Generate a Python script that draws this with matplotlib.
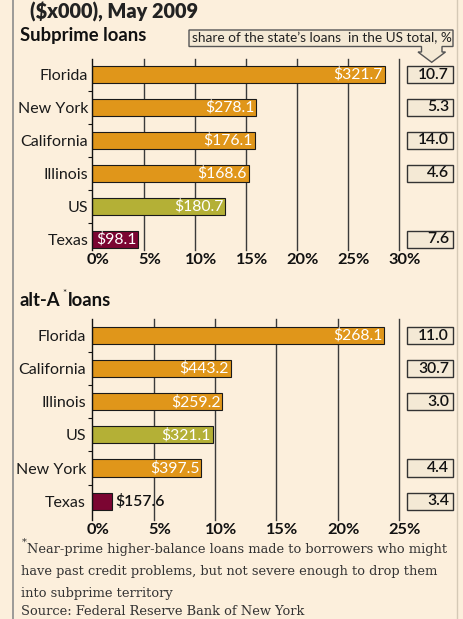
import numpy as np
import matplotlib
matplotlib.use("Agg")
import matplotlib.pyplot as plt
from matplotlib.patches import Rectangle, Polygon
from matplotlib.transforms import blended_transform_factory, ScaledTranslation

# subprime loans
sub_states = ["Florida", "New York", "California", "Illinois", "US", "Texas"]
sub_pct = [28.6, 16.0, 15.9, 15.3, 13.0, 4.5]
sub_amt = [321.7, 278.1, 176.1, 168.6, 180.7, 98.1]
sub_share = [10.7, 5.3, 14.0, 4.6, None, 7.6]

# alt-A loans
alt_states = ["Florida", "California", "Illinois", "US", "New York", "Texas"]
alt_pct = [23.8, 11.3, 10.6, 9.8, 8.9, 1.6]
alt_amt = [268.1, 443.2, 259.2, 321.1, 397.5, 157.6]
alt_share = [11.0, 30.7, 3.0, None, 4.4, 3.4]

sub_ticks = [0, 5, 10, 15, 20, 25, 30]
alt_ticks = [0, 5, 10, 15, 20, 25]

BG = "#fcefdc"
ORANGE = "#e0961a"
OLIVE = "#b4b036"
MAROON = "#7b0532"
BOXFILL = "#f4e9d5"
FONT = "Lato"

W, H = 464, 619
fig = plt.figure(figsize=(W / 100, H / 100), dpi=100, facecolor=BG)


def fx(px):
    return px / W


def fy(py):
    return 1 - py / H


def bar_colour(name):
    if name == "US":
        return OLIVE
    if name == "Texas":
        return MAROON
    return ORANGE


def panel(rect, states, pct, amt, share, ticks, ylim, lpad):
    left, top, right, bottom = rect
    ax = fig.add_axes([fx(left), fy(bottom), (right - left) / W, (bottom - top) / H])
    ax.set_facecolor("none")
    y = np.arange(len(states))
    ax.barh(y, pct, height=0.52, color=[bar_colour(s) for s in states],
            edgecolor="#1a1a1a", linewidth=0.8, zorder=3)
    ax.set_xlim(ticks[0], ticks[-1])
    ax.set_ylim(*ylim)
    for t in ticks[1:]:
        ax.axvline(t, color="#3a3a3a", lw=1, zorder=1, clip_on=False)
    for s in ["top", "right", "bottom"]:
        ax.spines[s].set_visible(False)
    ax.spines["left"].set_color("#111")
    ax.spines["left"].set_linewidth(1)
    ax.spines["left"].set_zorder(4)

    ax.set_yticks(y)
    ax.set_yticklabels(states, fontsize=11.5, family=FONT, color="#1a1a1a")
    ax.set_yticks(np.arange(0.5, len(states) - 1, 1), minor=True)
    ax.tick_params(axis="y", which="major", length=0, pad=lpad)
    ax.tick_params(axis="y", which="minor", length=3, width=0.8, color="#111")

    ax.set_xticks(ticks)
    ax.set_xticklabels([f"{t}%" for t in ticks], fontsize=11.8, family=FONT,
                       fontweight="bold", color="#111")
    ax.tick_params(axis="x", length=0, pad=2)
    off = ScaledTranslation(6 / 100, 0, fig.dpi_scale_trans)
    for lbl in ax.get_xticklabels():
        lbl.set_transform(lbl.get_transform() + off)

    span = ticks[-1] - ticks[0]
    for i, (p, a) in enumerate(zip(pct, amt)):
        if p / span > 0.1:
            ax.text(p - span * 0.006, i, f"${a:.1f}", ha="right", va="center",
                    color="white", fontsize=11.3, family=FONT, zorder=5)
        else:
            ax.text(p + span * 0.01, i, f"${a:.1f}", ha="left", va="center",
                    color="#111", fontsize=11.3, family=FONT,
                    fontweight="semibold", zorder=5)

    tr = blended_transform_factory(fig.transFigure, ax.transData)
    for i, v in enumerate(share):
        if v is None:
            continue
        ax.add_patch(Rectangle((fx(408.5), i - 0.24), 46 / W, 0.52, transform=tr,
                               facecolor="#8a8070", edgecolor="none",
                               clip_on=False, zorder=2))
        ax.add_patch(Rectangle((fx(407), i - 0.26), 46 / W, 0.52, transform=tr,
                               facecolor=BOXFILL, edgecolor="#333", lw=1,
                               clip_on=False, zorder=3))
        ax.text(fx(449), i, f"{v:.1f}", transform=tr, ha="right", va="center",
                fontsize=11.3, family=FONT, fontweight="semibold", color="#111")
    return ax


ax1 = panel((92.5, 59, 399, 250), sub_states, sub_pct, sub_amt, sub_share,
            sub_ticks, (5.32, -0.47), 3)
ax2 = panel((92.3, 319.3, 399, 520), alt_states, alt_pct, alt_amt, alt_share,
            alt_ticks, (5.57, -0.49), 4.5)

# headings
fig.text(fx(30), fy(18), "($x000), May 2009", fontsize=14.3, family=FONT,
         fontweight="heavy", color="#222", va="baseline")
fig.text(fx(20), fy(41), "Subprime loans", fontsize=13.3, family=FONT,
         fontweight="bold", color="#111", va="baseline")
fig.text(fx(20), fy(306), "alt-A", fontsize=13.3, family=FONT,
         fontweight="bold", color="#111", va="baseline")
fig.text(fx(62), fy(296), "*", fontsize=7, family=FONT, color="#111",
         va="baseline")
fig.text(fx(68), fy(306), "loans", fontsize=13.3, family=FONT,
         fontweight="bold", color="#111", va="baseline")

# callout box with arrow
pts = [(189, 30), (453, 30), (453, 46.5), (442, 46.5), (442, 52), (445.5, 52),
       (431.7, 62.3), (418, 52), (421.5, 52), (421.5, 46.5), (189, 46.5)]
fig.add_artist(Polygon([(fx(a), fy(b)) for a, b in pts], closed=True,
                       transform=fig.transFigure, facecolor=BOXFILL,
                       edgecolor="#555", lw=1))
fig.text(fx(192), fy(38.5), "share of the state\u2019s loans  in the US total, %",
         fontsize=9.8, family=FONT, color="#222", va="center")

# footnote
SERIF = "DejaVu Serif"
fig.text(fx(22), fy(545), "*", fontsize=7, family=SERIF, color="#333",
         va="baseline")
notes = [(27, 553.5, "Near-prime higher-balance loans made to borrowers who might"),
         (21, 575.5, "have past credit problems, but not severe enough to drop them"),
         (21, 596.5, "into subprime territory"),
         (21, 615, "Source: Federal Reserve Bank of New York")]
for x, yy, s in notes:
    fig.text(fx(x), fy(yy), s, fontsize=9.4, family=SERIF, color="#333",
             va="baseline")

# frame lines
fig.add_artist(plt.Line2D([fx(13), fx(13)], [0, 1], color="#8c8c8c", lw=1.2,
                          transform=fig.transFigure))
fig.add_artist(plt.Line2D([fx(457.5), fx(457.5)], [0, 1], color="#d5c9b6", lw=1,
                          transform=fig.transFigure))

fig.savefig("out.png", dpi=100, facecolor=BG)
